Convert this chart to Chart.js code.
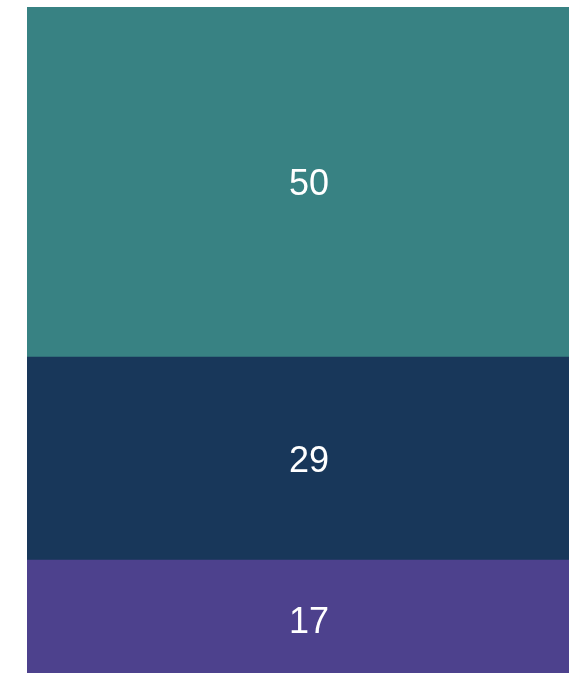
<!DOCTYPE html>
<html>
<head>
<meta charset="utf-8">
<script src="https://cdn.jsdelivr.net/npm/chart.js@4"></script>
<style>
  html, body { margin: 0; padding: 0; overflow: hidden; background: #fff; }
  #wrap { width: 600px; height: 679px; }
</style>
</head>
<body>
<div id="wrap"><canvas id="barChart"></canvas></div>
<script>
const categories = [""];
const seriesNames = ["C", "B", "A"];
const bottomValues = [17];
const middleValues = [29];
const topValues = [50];
const seriesColors = ["#4d418d", "#18375a", "#388283"];

// draw the value in the middle of each segment
const segmentLabels = {
  id: "segmentLabels",
  afterDatasetsDraw(chart) {
    const ctx = chart.ctx;
    ctx.save();
    ctx.fillStyle = "#ffffff";
    ctx.font = '36px "Liberation Sans", Arial, sans-serif';
    ctx.textAlign = "center";
    ctx.textBaseline = "alphabetic";
    chart.data.datasets.forEach((ds, i) => {
      chart.getDatasetMeta(i).data.forEach((bar, j) => {
        const p = bar.getProps(["x", "y", "base"], true);
        ctx.fillText(ds.data[j], p.x, (p.y + p.base) / 2 + 13);
      });
    });
    ctx.restore();
  },
};

const barCtx = document.getElementById("barChart").getContext("2d");
new Chart(barCtx, {
  type: "bar",
  data: {
    labels: categories,
    datasets: [
      { label: seriesNames[0], data: bottomValues, backgroundColor: seriesColors[0] },
      { label: seriesNames[1], data: middleValues, backgroundColor: seriesColors[1] },
      { label: seriesNames[2], data: topValues, backgroundColor: seriesColors[2] },
    ],
  },
  options: {
    responsive: true,
    maintainAspectRatio: false,
    animation: false,
    layout: { padding: { left: 27, top: 7, right: 9, bottom: 0 } },
    datasets: { bar: { barPercentage: 1, categoryPercentage: 1, borderWidth: 0 } },
    plugins: { legend: { display: false }, tooltip: { enabled: false } },
    scales: {
      x: { stacked: true, display: false },
      y: { stacked: true, display: false, min: 0, max: 96 },
    },
  },
  plugins: [segmentLabels],
});
</script>
</body>
</html>
